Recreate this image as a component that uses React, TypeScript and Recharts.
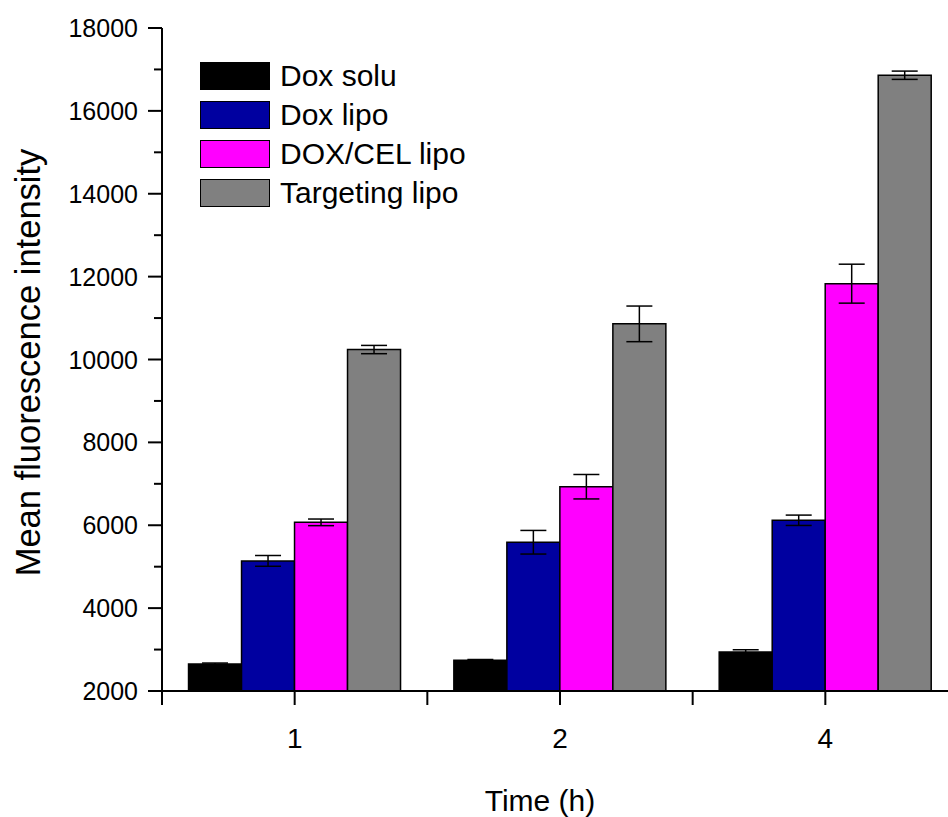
import React from 'react';
import { BarChart, Bar, XAxis, YAxis, ErrorBar, Legend } from 'recharts';

const categories = ['1', '2', '4'];
const seriesNames = ['Dox solu', 'Dox lipo', 'DOX/CEL lipo', 'Targeting lipo'];
const seriesKeys = ['doxSolu', 'doxLipo', 'doxCel', 'targeting'];
const colors = ['#000000', '#0000A0', '#FF00FF', '#808080'];

const doxSolu = [2650, 2740, 2940];
const doxSoluErr = [25, 20, 55];
const doxLipo = [5140, 5590, 6120];
const doxLipoErr = [130, 285, 125];
const doxCel = [6070, 6930, 11830];
const doxCelErr = [80, 295, 470];
const targeting = [10240, 10860, 16860];
const targetingErr = [100, 430, 100];

const yTicks = [2000, 3000, 4000, 5000, 6000, 7000, 8000, 9000, 10000, 11000, 12000, 13000, 14000, 15000, 16000, 17000, 18000];
const yMajorStep = 2000;

const FONT = '"Liberation Sans", Arial, Helvetica, sans-serif';

const data = categories.map((c, i) => ({
  name: c,
  doxSolu: doxSolu[i],
  doxSoluErr: doxSoluErr[i],
  doxLipo: doxLipo[i],
  doxLipoErr: doxLipoErr[i],
  doxCel: doxCel[i],
  doxCelErr: doxCelErr[i],
  targeting: targeting[i],
  targetingErr: targetingErr[i],
}));

const Y_TICK_SIZE = 14;
const Y_TICK_MARGIN = 10;
const X_TICK_SIZE = 14;
const X_TICK_MARGIN = 18;

const YTick = (props: any) => {
  const { x, y, payload } = props;
  const axisX = x + Y_TICK_SIZE + Y_TICK_MARGIN;
  const major = payload.value % yMajorStep === 0;
  return (
    <g>
      <line x1={axisX} x2={axisX - (major ? 14 : 8)} y1={y} y2={y} stroke="#000" strokeWidth={2} />
      {major && (
        <text x={x} y={y} textAnchor="end" dominantBaseline="central" fontSize={25} fontFamily={FONT} fill="#000">
          {payload.value}
        </text>
      )}
    </g>
  );
};

const XTick = (props: any) => {
  const { x, y, payload, index, visibleTicksCount } = props;
  const axisY = y - X_TICK_SIZE - X_TICK_MARGIN;
  const half = payload && typeof payload.offset === 'number' ? payload.offset : 0;
  const isLast = index === visibleTicksCount - 1;
  return (
    <g>
      <line x1={x} x2={x} y1={axisY} y2={axisY + 14} stroke="#000" strokeWidth={2} />
      {half > 0 && <line x1={x - half} x2={x - half} y1={axisY} y2={axisY + 14} stroke="#000" strokeWidth={2} />}
      {half > 0 && isLast && <line x1={x + half} x2={x + half} y1={axisY} y2={axisY + 14} stroke="#000" strokeWidth={2} />}
      <text x={x} y={y} dy={25} textAnchor="middle" fontSize={28} fontFamily={FONT} fill="#000">
        {payload.value}
      </text>
    </g>
  );
};

const LegendContent = (props: any) => {
  const payload = [...(props.payload || [])].sort(
    (a: any, b: any) => seriesNames.indexOf(a.value) - seriesNames.indexOf(b.value)
  );
  return (
    <div>
      {payload.map((p: any, i: number) => (
        <div key={i} style={{ display: 'flex', alignItems: 'center', height: 39 }}>
          <div
            style={{
              width: 70,
              height: 28,
              background: p.color,
              border: '1.5px solid #000',
              boxSizing: 'border-box',
            }}
          />
          <span style={{ marginLeft: 10, fontSize: 30, fontFamily: FONT, lineHeight: 1, color: '#000' }}>{p.value}</span>
        </div>
      ))}
    </div>
  );
};

const YTitle = (props: any) => {
  const vb = props.viewBox || { x: 0, y: 0, width: 0, height: 0 };
  const cx = vb.x + 28;
  const cy = vb.y + vb.height / 2 + 3;
  return (
    <text
      x={cx}
      y={cy}
      transform={`rotate(-90 ${cx} ${cy})`}
      textAnchor="middle"
      dominantBaseline="central"
      fontSize={34.5}
      fontFamily={FONT}
      fill="#000"
    >
      Mean fluorescence intensity
    </text>
  );
};

const XTitle = (props: any) => {
  const vb = props.viewBox || { x: 0, y: 0, width: 0, height: 0 };
  return (
    <text x={vb.x + 378} y={vb.y + 120} textAnchor="middle" fontSize={30} fontFamily={FONT} fill="#000">
      Time (h)
    </text>
  );
};

export default function App() {
  return (
    <div style={{ position: 'absolute', left: 0, top: 0, width: 948, height: 817, overflow: 'hidden', background: '#fff' }}>
      <BarChart
        width={960}
        height={817}
        data={data}
        margin={{ top: 28, right: 2, left: 0, bottom: 0 }}
        barCategoryGap="10%"
        barGap={0}
      >
        <XAxis
          dataKey="name"
          height={126}
          axisLine={{ stroke: '#000', strokeWidth: 2 }}
          tickLine={false}
          tickSize={X_TICK_SIZE}
          tickMargin={X_TICK_MARGIN}
          tick={<XTick />}
          interval={0}
          label={{ content: <XTitle /> } as any}
        />
        <XAxis
          xAxisId="top"
          dataKey="name"
          orientation="top"
          height={0}
          axisLine={{ stroke: '#000', strokeWidth: 2 }}
          tick={false}
          tickLine={false}
        />
        <YAxis
          width={162}
          domain={[2000, 18000]}
          ticks={yTicks}
          interval={0}
          allowDataOverflow
          axisLine={{ stroke: '#000', strokeWidth: 2 }}
          tickLine={false}
          tickSize={Y_TICK_SIZE}
          tickMargin={Y_TICK_MARGIN}
          tick={<YTick />}
          label={{ content: <YTitle /> } as any}
        />
        <Legend
          layout="vertical"
          align="center"
          verticalAlign="middle"
          content={<LegendContent />}
          wrapperStyle={{ top: 56, left: 200, width: 'auto', height: 'auto' }}
        />
        {seriesKeys.map((k, i) => (
          <Bar
            key={k}
            dataKey={k}
            name={seriesNames[i]}
            fill={colors[i]}
            stroke="#000"
            strokeWidth={1.5}
            isAnimationActive={false}
          >
            <ErrorBar dataKey={`${k}Err`} width={13} stroke="#000" strokeWidth={1.5} direction="y" />
          </Bar>
        ))}
      </BarChart>
    </div>
  );
}
